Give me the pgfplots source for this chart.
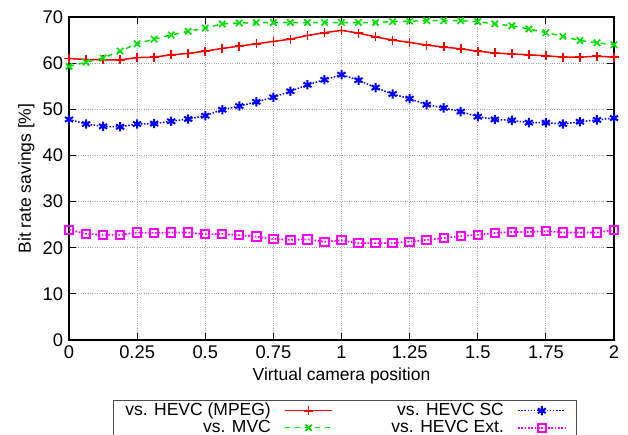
\documentclass[border=0pt]{standalone}
\usepackage{fontspec}
\setmainfont{Liberation Sans}
\usepackage{pgfplots}
\pgfplotsset{compat=1.18}

\definecolor{cred}{RGB}{255,0,0}
\definecolor{cgreen}{RGB}{0,225,0}
\definecolor{cblue}{RGB}{0,0,255}
\definecolor{cmag}{RGB}{255,0,255}

% 1 px of the reference = 0.6pt
\newlength{\px}\setlength{\px}{0.6pt}

\pgfplotstableread{
x      mpeg  mvc   sc    ext
0      61.0  59.3  47.8  23.9
0.0625 60.8  60.2  46.8  23.0
0.125  60.7  61.1  46.3  22.8
0.1875 60.7  62.6  46.2  22.8
0.25   61.2  64.2  46.8  23.3
0.3125 61.3  65.2  46.9  23.2
0.375  61.8  66.1  47.4  23.3
0.4375 62.1  66.9  47.9  23.3
0.5    62.6  67.6  48.6  22.9
0.5625 63.2  68.5  49.9  23.0
0.625  63.7  68.7  50.7  22.7
0.6875 64.2  68.8  51.6  22.4
0.75   64.7  68.8  52.6  21.9
0.8125 65.2  68.8  53.9  21.7
0.875  66.0  68.8  55.3  21.8
0.9375 66.6  68.8  56.4  21.3
1      67.1  68.8  57.5  21.6
1.0625 66.5  68.8  56.3  21.0
1.125  65.7  68.8  54.7  21.0
1.1875 65.0  69.0  53.3  21.0
1.25   64.5  69.1  52.3  21.3
1.3125 63.9  69.2  51.0  21.7
1.375  63.5  69.2  50.3  22.1
1.4375 63.1  69.2  49.5  22.5
1.5    62.6  69.0  48.4  22.8
1.5625 62.2  68.5  47.8  23.2
1.625  62.0  68.1  47.6  23.4
1.6875 61.8  67.4  47.1  23.4
1.75   61.6  66.6  47.1  23.6
1.8125 61.3  65.8  46.8  23.3
1.875  61.3  64.9  47.3  23.3
1.9375 61.5  64.4  47.7  23.3
2      61.3  64.0  48.1  23.8
}\datatable

\begin{document}
\begin{tikzpicture}
\begin{axis}[
    name=ax,
    scale only axis,
    width=545\px, height=323\px,
    xmin=0, xmax=2, ymin=0, ymax=70,
    xtick={0,0.25,...,2},
    ytick={0,10,...,70},
    /pgf/number format/assume math mode=true,
    tick label style={font=\fontsize{11}{13}\selectfont},
    label style={font=\fontsize{10.5}{12}\selectfont},
    xlabel={Virtual camera position},
    ylabel={Bit rate savings [\%]},
    xlabel style={yshift=1.5pt},
    ylabel style={yshift=-2pt},
    grid=major,
    grid style={densely dotted, gray!70, line width=0.6pt},
    axis line style={line width=1pt, black},
    major tick length=4pt,
    every tick/.style={black, line width=0.6pt},
    legend columns=2,
    transpose legend,
    legend plot pos=right,
    legend cell align=right,
    legend style={
        at={(rel axis cs:0.081,-0.186)}, anchor=north west,
        font=\fontsize{10.5}{11}\selectfont,
        draw=black!70, line width=0.6pt,
        inner xsep=6pt, inner ysep=1pt,
        nodes={inner ysep=0.5pt, inner xsep=1pt, text height=7.6pt, text depth=1.6pt},
        /tikz/every odd column/.append style={column sep=7pt},
        /tikz/every even column/.append style={column sep=34pt},
        row sep=0pt,
    },
    legend image code/.code={
        \draw[#1, mark repeat=2, mark phase=2]
            plot coordinates {(0cm,0cm) (0.5cm,0cm) (1cm,0cm)};
    },
]
\addplot[draw=cred, line width=0.9pt, mark=+, mark size=2.7pt,
    mark options={solid, draw=cred, line width=1pt}]
    table[x=x, y=mpeg] {\datatable};
\addlegendentry{vs. HEVC (MPEG)}
\addplot[draw=cgreen, line width=0.9pt, dashed, mark=x, mark size=2.7pt,
    mark options={solid, draw=cgreen, line width=1pt}]
    table[x=x, y=mvc] {\datatable};
\addlegendentry{vs. MVC}
\addplot[draw=cblue, line width=0.9pt, densely dotted, mark=asterisk, mark size=2.8pt,
    mark options={solid, draw=cblue, line width=1.2pt}]
    table[x=x, y=sc] {\datatable};
\addlegendentry{vs. HEVC SC}
\addplot[draw=cmag, line width=1pt, densely dotted, mark=square, mark size=2.5pt,
    mark options={solid, draw=cmag, fill=none, line width=1.2pt}]
    table[x=x, y=ext] {\datatable};
\addlegendentry{vs. HEVC Ext.}
\end{axis}
\pgfresetboundingbox
\path (ax.south west) ++(-69\px,-95\px) coordinate (bl);
\path (ax.north east) ++(14\px,17\px) coordinate (tr);
\path[use as bounding box] (bl) rectangle (tr);
\end{tikzpicture}
\end{document}
